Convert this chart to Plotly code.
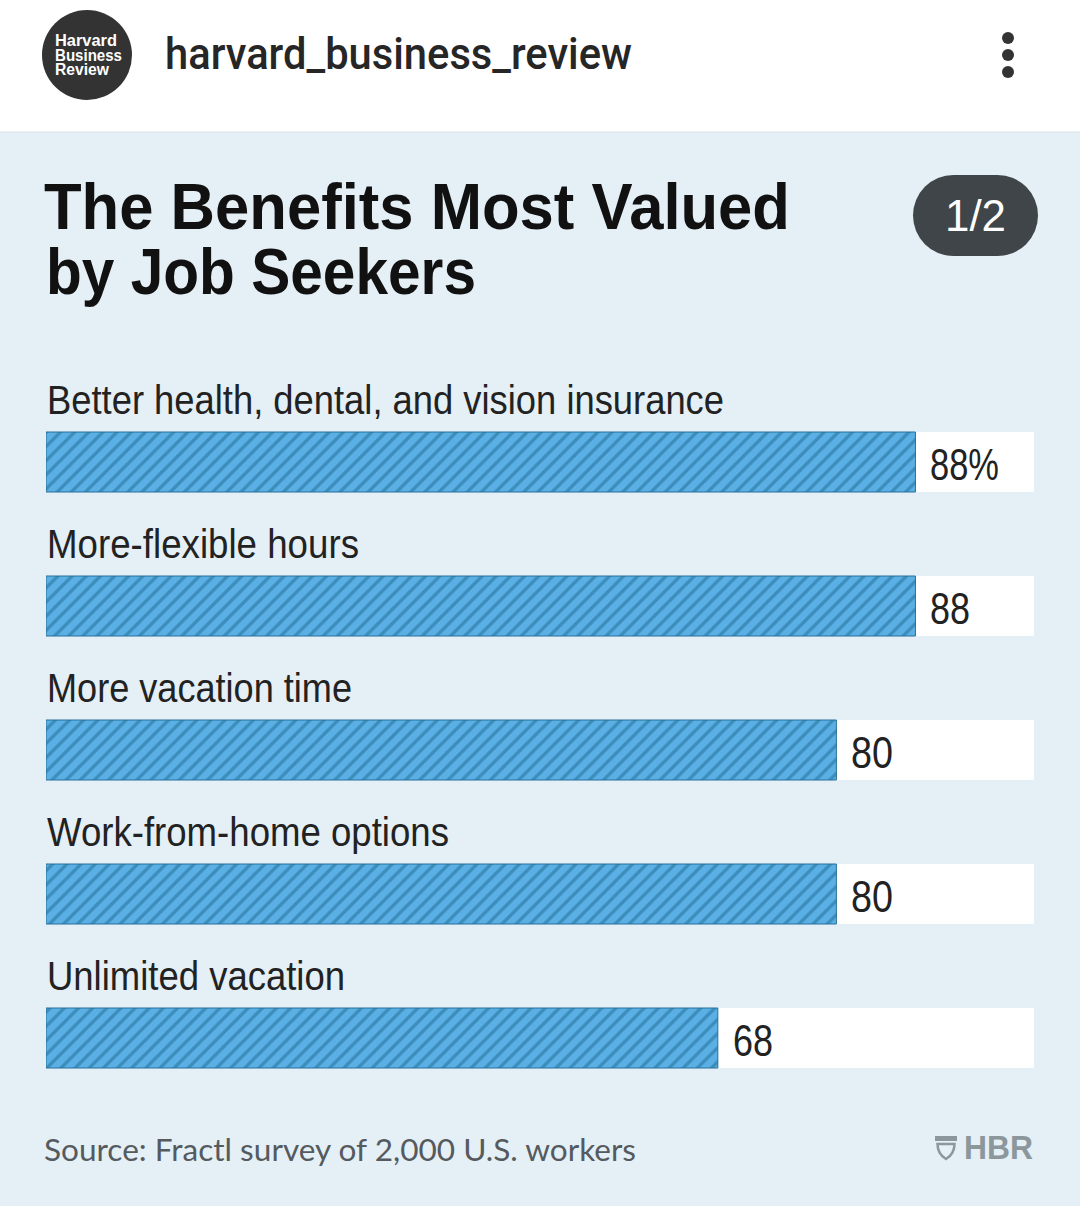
import json
import plotly.graph_objects as go

categories = ["Better health, dental, and vision insurance", "More-flexible hours", "More vacation time",
              "Work-from-home options", "Unlimited vacation"]
values = [88, 88, 80, 80, 68]
value_labels = ["88%", "88", "80", "80", "68"]
track = [100, 100, 100, 100, 100]

W, H = 1080, 1206
L, R, T, B = 46, 1034, 390, 1110

# measured text widths, no condensed font is installed so the glyphs get squeezed to these
text_widths = {
    "Better health, dental, and vision insurance": 677, "More-flexible hours": 312, "More vacation time": 305,
    "Work-from-home options": 402, "Unlimited vacation": 298,
    "88%": 69, "88": 40, "80": 42, "68": 40,
    "The Benefits Most Valued": 746, "by Job Seekers": 430,
    "harvard_business_review": 467, "1/2": 61,
    "Source: Fractl survey of 2,000 U.S. workers": 592, "HBR": 69,
    "Harvard": 62, "Business": 67, "Review": 54,
}


# pixel positions to paper coordinates, for the page furniture around the chart
def px(x):
    return (x - L) / (R - L)


def py(y):
    return (B - y) / (B - T)


fig = go.Figure()
fig.add_trace(go.Bar(y=categories, x=track, orientation="h", marker=dict(color="white", line=dict(width=0)),
                     hoverinfo="skip"))
fig.add_trace(go.Bar(y=categories, x=values, orientation="h",
                     marker=dict(color="#5ab0e4", line=dict(color="#27709a", width=1),
                                 pattern=dict(shape="/", fgcolor="#1f6a94", bgcolor="#5ab0e4", size=10, solidity=0.34)),
                     hoverinfo="skip"))

for c, v, lab in zip(categories, values, value_labels):
    fig.add_annotation(x=0, y=c, text=c, xanchor="left", yanchor="middle", showarrow=False, xshift=-1, yshift=62,
                       font=dict(family="Liberation Sans", size=41, color="#222222"))
    fig.add_annotation(x=v, y=c, text=lab, xanchor="left", yanchor="middle", showarrow=False, xshift=13, yshift=-2,
                       font=dict(family="Liberation Sans", size=45, color="#222222"))

shapes = [
    dict(type="rect", x0=px(-3), x1=px(W + 3), y0=py(-3), y1=py(132), fillcolor="white",
         line=dict(color="#d9e2e6", width=1)),
    dict(type="circle", x0=px(42), x1=px(132), y0=py(10), y1=py(100), fillcolor="#333333", line=dict(width=0)),
    dict(type="rect", x0=px(953), x1=px(998), y0=py(175), y1=py(256), fillcolor="#3f4548", line=dict(width=0)),
    dict(type="circle", x0=px(913), x1=px(994), y0=py(175), y1=py(256), fillcolor="#3f4548", line=dict(width=0)),
    dict(type="circle", x0=px(957), x1=px(1038), y0=py(175), y1=py(256), fillcolor="#3f4548", line=dict(width=0)),
    # HBR shield
    dict(type="rect", x0=px(935), x1=px(957), y0=py(1136), y1=py(1141), fillcolor="#8c979c", line=dict(width=0)),
    dict(type="path", path="M %f %f L %f %f C %f %f %f %f %f %f C %f %f %f %f %f %f Z" % (
        px(937.5), py(1144), px(954.5), py(1144), px(954.5), py(1152), px(951), py(1156), px(946), py(1159),
        px(941), py(1156), px(937.5), py(1152), px(937.5), py(1144)),
        fillcolor="rgba(0,0,0,0)", line=dict(color="#8c979c", width=2.5)),
]
for cy in [38, 55, 72]:
    shapes.append(dict(type="circle", x0=px(1002), x1=px(1014), y0=py(cy - 6), y1=py(cy + 6),
                       fillcolor="#333333", line=dict(width=0)))
for s in shapes:
    s.update(xref="paper", yref="paper", layer="below")
fig.update_layout(shapes=shapes)

texts = [
    ("Harvard", 53, 41, 16, "Liberation Sans", "white", 700),
    ("Business", 53, 55, 16, "Liberation Sans", "white", 700),
    ("Review", 53, 69, 16, "Liberation Sans", "white", 700),
    ("harvard_business_review", 163, 54, 44, "Roboto", "#262626", 500),
    ("The Benefits Most Valued", 42, 206, 65, "Liberation Sans", "#111111", 700),
    ("by Job Seekers", 44, 272, 65, "Liberation Sans", "#111111", 700),
    ("1/2", 943, 216, 44, "Liberation Sans", "white", 400),
    ("Source: Fractl survey of 2,000 U.S. workers", 42, 1149, 30, "Lato", "#555a5e", 400),
    ("HBR", 962, 1147, 33, "Liberation Sans", "#8c979c", 700),
]
for txt, x, y, size, fam, col, weight in texts:
    fig.add_annotation(xref="paper", yref="paper", x=px(x), y=py(y), text=txt,
                       xanchor="left", yanchor="middle", align="left", showarrow=False,
                       font=dict(family=fam, size=size, color=col, weight=weight))

fig.update_layout(
    width=W, height=H, margin=dict(l=L, r=W - R, t=T, b=H - B, pad=0),
    paper_bgcolor="#e4eff6", plot_bgcolor="#e4eff6",
    barmode="overlay", bargap=1 - 60 / 144, showlegend=False,
    xaxis=dict(range=[0, 100], visible=False, fixedrange=True),
    yaxis=dict(range=[4.5, -0.5], visible=False, fixedrange=True),
)

squeeze = """
document.body.style.margin='0';document.body.style.overflow='hidden';
var widths = %s;
document.querySelectorAll('text.annotation-text').forEach(function(t){
  var w = widths[t.textContent];
  if(!w) return;
  var b = t.getBBox();
  t.style.textAnchor = 'start';
  t.setAttribute('x', b.x);
  t.setAttribute('textLength', w);
  t.setAttribute('lengthAdjust', 'spacingAndGlyphs');
});
""" % json.dumps(text_widths)

fig.write_html("out.html", config={"displayModeBar": False}, post_script=squeeze)
